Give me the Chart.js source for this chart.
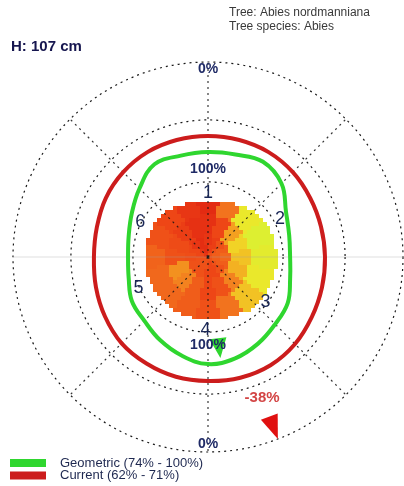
<!DOCTYPE html>
<html>
<head>
<meta charset="utf-8">
<script src="https://cdn.jsdelivr.net/npm/chart.js@4.4.1/dist/chart.umd.min.js"></script>
<style>
  html, body { margin: 0; padding: 0; background: #ffffff; }
  canvas { display: block; }
</style>
</head>
<body>
<canvas id="tomo" width="404" height="486"></canvas>
<script>
// Measuring directions around the stem, clockwise from north
const directions = ['0°','15°','30°','45°','60°','75°','90°','105°','120°','135°','150°','165°',
                    '180°','195°','210°','225°','240°','255°','270°','285°','300°','315°','330°','345°'];

// Stability rings (distance from stem centre, outer dotted circle = 100)
const geometricRing = [53.8, 54.4, 56.4, 53.3, 46.2, 43.1, 42.1, 43.6, 47.2, 48.7, 51.3, 53.8,
                       54.9, 52.3, 49.2, 46.2, 45.1, 42.1, 41.0, 42.1, 45.1, 49.7, 54.9, 53.8];
const currentRing   = [62.1, 62.1, 62.1, 61.5, 60.5, 60.0, 60.0, 60.5, 61.5, 63.1, 64.1, 64.1,
                       63.6, 63.6, 63.1, 62.6, 61.0, 59.5, 58.5, 59.0, 60.5, 61.5, 62.1, 62.1];
const geometricRange = [74, 100];
const currentRange   = [62, 71];

// Dotted reference circles
const gridLevels = [0, 38.5, 70.3, 100];

// Percentage marks along the north-south axis
const percentText = ['100%', '0%'];
const percentDist = [45.2, 96.2];

// Sensors placed around the stem
const sensorIds   = ['1', '2', '3', '4', '5', '6'];
const sensorAngle = [0, 62, 128, 182, 246, 297];
const sensorDist  = [33.0, 41.8, 37.4, 37.4, 39.0, 39.0];

// Tomogram: outline of the cross-section in 16 sectors of 22.5° (clockwise from north)
const woodEdge = [27.7, 29.7, 33.3, 34.9, 35.4, 35.4, 34.9, 32.8, 31.8, 32.3, 32.3, 32.3, 32.3, 32.3, 31.8, 29.2];
const woodRingBreaks = [11.3, 21.5];
// Relative sound-wave velocity per sector (0 = slow / red, 1 = fast / yellow-green)
const woodHeatInner  = [0.15, 0.20, 0.30, 0.35, 0.40, 0.35, 0.30, 0.25, 0.25, 0.30, 0.30, 0.30, 0.28, 0.25, 0.15, 0.10];
const woodHeatMiddle = [0.12, 0.25, 0.60, 0.75, 0.70, 0.65, 0.50, 0.30, 0.25, 0.35, 0.50, 0.55, 0.30, 0.27, 0.20, 0.12];
const woodHeatOuter  = [0.08, 0.45, 0.85, 0.95, 0.90, 0.85, 0.70, 0.45, 0.30, 0.35, 0.40, 0.40, 0.38, 0.30, 0.25, 0.15];

// Direction markers: weakest geometric point and current-load direction
const markerAngle = [173, 159];
const markerTip   = [52.2, 100];
const currentDrop = -38;
const currentDropDist = 77.4;

const headerLines = ['Tree: Abies nordmanniana', 'Tree species: Abies'];
const heightLabel = 'H: 107 cm';

const FONT = "'Liberation Sans', Arial, sans-serif";
const NAVY = '#1f2a66';
const GREEN = '#2fd62f';
const RED = '#cc1c1c';

const heatStops = [
  [0.00, [222, 30, 16]],
  [0.25, [238, 70, 22]],
  [0.45, [242, 115, 30]],
  [0.60, [244, 160, 32]],
  [0.80, [240, 228, 40]],
  [1.00, [214, 242, 52]]
];
function heatColor(v) {
  for (let i = 1; i < heatStops.length; i++) {
    if (v <= heatStops[i][0]) {
      const [a, ca] = heatStops[i - 1], [b, cb] = heatStops[i];
      const t = (v - a) / (b - a);
      const c = ca.map((x, k) => Math.round(x + (cb[k] - x) * t));
      return `rgb(${c[0]},${c[1]},${c[2]})`;
    }
  }
  const c = heatStops[heatStops.length - 1][1];
  return `rgb(${c[0]},${c[1]},${c[2]})`;
}

// Position on the radial scale for a compass bearing (degrees) and a distance value
function polar(s, deg, dist) {
  return s.getPointPosition(0, s.getDistanceFromCenterForValue(dist), deg * Math.PI / 180);
}

const tomogram = {
  id: 'tomogram',
  beforeDraw(chart) {
    const s = chart.scales.r, ctx = chart.ctx;
    const f = s.getDistanceFromCenterForValue(1) - s.getDistanceFromCenterForValue(0);
    const step = 2;
    ctx.save();
    for (let gx = -40; gx < 40; gx += step) {
      for (let gy = -40; gy < 40; gy += step) {
        const x = gx + step / 2, y = gy + step / 2;
        const r = Math.hypot(x, y);
        let th = Math.atan2(x, y) * 180 / Math.PI;
        if (th < 0) th += 360;
        const fp = th / 22.5;
        const i0 = Math.floor(fp) % 16, i1 = (i0 + 1) % 16, t = fp - Math.floor(fp);
        const edge = woodEdge[i0] * (1 - t) + woodEdge[i1] * t;
        if (r > edge) continue;
        const sec = Math.round(fp) % 16;
        const ring = r < woodRingBreaks[0] ? woodHeatInner : (r < woodRingBreaks[1] ? woodHeatMiddle : woodHeatOuter);
        ctx.fillStyle = heatColor(ring[sec]);
        const x0 = Math.round(s.xCenter + gx * f), x1 = Math.round(s.xCenter + (gx + step) * f);
        const y0 = Math.round(s.yCenter - (gy + step) * f), y1 = Math.round(s.yCenter - gy * f);
        ctx.fillRect(x0, y0, x1 - x0, y1 - y0);
      }
    }
    ctx.restore();
  },
  afterDraw(chart) {
    const s = chart.scales.r, ctx = chart.ctx;
    ctx.save();

    // direction markers
    const markerColors = [GREEN, '#e01010'];
    const markerLen = [20, 24], markerHalf = [8.5, 9];
    markerAngle.forEach((deg, i) => {
      const tip = polar(s, deg, markerTip[i]);
      const a = deg * Math.PI / 180;
      const dx = Math.sin(a), dy = -Math.cos(a);
      const bx = tip.x - dx * markerLen[i], by = tip.y - dy * markerLen[i];
      ctx.beginPath();
      ctx.moveTo(tip.x, tip.y);
      ctx.lineTo(bx - dy * markerHalf[i], by + dx * markerHalf[i]);
      ctx.lineTo(bx + dy * markerHalf[i], by - dx * markerHalf[i]);
      ctx.closePath();
      ctx.fillStyle = markerColors[i];
      ctx.fill();
    });

    ctx.textAlign = 'center';
    ctx.textBaseline = 'middle';

    // percentage marks north and south
    ctx.fillStyle = NAVY;
    ctx.font = `bold 14px ${FONT}`;
    percentText.forEach((txt, i) => {
      [0, 180].forEach(deg => {
        const p = polar(s, deg, percentDist[i]);
        ctx.fillText(txt, p.x, p.y);
      });
    });

    // sensor numbers
    ctx.font = `18px ${FONT}`;
    ctx.fillStyle = '#1a2756';
    sensorIds.forEach((id, i) => {
      const p = polar(s, sensorAngle[i], sensorDist[i]);
      ctx.fillText(id, p.x, p.y);
    });

    // current-load drop
    ctx.font = `bold 15px ${FONT}`;
    ctx.fillStyle = '#d34545';
    const q = polar(s, markerAngle[1], currentDropDist);
    ctx.fillText(currentDrop + '%', q.x, q.y);

    // header
    ctx.textAlign = 'left';
    ctx.font = `12px ${FONT}`;
    ctx.fillStyle = '#3a3a3a';
    headerLines.forEach((l, i) => ctx.fillText(l, 229, 13 + i * 14));
    ctx.font = `bold 15px ${FONT}`;
    ctx.fillStyle = '#16164f';
    ctx.fillText(heightLabel, 11, 47);

    // legend
    ctx.font = `13px ${FONT}`;
    chart.data.datasets.forEach((ds, i) => {
      const y = 463 + i * 12.5;
      ctx.fillStyle = ds.borderColor;
      ctx.fillRect(10, y - 4, 36, 8);
      ctx.fillStyle = '#1e2850';
      ctx.fillText(ds.label, 60, y);
    });
    ctx.restore();
  }
};

new Chart(document.getElementById('tomo'), {
  type: 'radar',
  data: {
    labels: directions,
    datasets: [
      {
        label: `Geometric (${geometricRange[0]}% - ${geometricRange[1]}%)`,
        data: geometricRing,
        borderColor: GREEN,
        borderWidth: 4,
        fill: false,
        pointRadius: 0,
        tension: 0.4
      },
      {
        label: `Current (${currentRange[0]}% - ${currentRange[1]}%)`,
        data: currentRing,
        borderColor: RED,
        borderWidth: 4,
        fill: false,
        pointRadius: 0,
        tension: 0.4
      }
    ]
  },
  options: {
    responsive: false,
    animation: false,
    layout: { padding: { left: 13, top: 62, right: 1, bottom: 34 } },
    plugins: { legend: { display: false }, tooltip: { enabled: false } },
    scales: {
      r: {
        min: 0,
        max: 100,
        startAngle: 0,
        ticks: { display: false },
        pointLabels: { display: false },
        grid: { circular: true, color: '#1a1a1a', lineWidth: 1.2 },
        border: { dash: [2, 4] },
        angleLines: {
          color: ctx => (ctx.index % 6 === 0 && ctx.index % 12 !== 0) ? 'rgba(160,160,160,0.35)' : 'rgba(20,20,20,0.85)',
          lineWidth: ctx => ctx.index % 3 === 0 ? 1.2 : 0,
          borderDash: ctx => (ctx.index % 6 === 0 && ctx.index % 12 !== 0) ? [] : [2, 4]
        },
        afterBuildTicks(scale) {
          scale.ticks = gridLevels.map(v => ({ value: v }));
        }
      }
    }
  },
  plugins: [tomogram]
});
</script>
</body>
</html>
